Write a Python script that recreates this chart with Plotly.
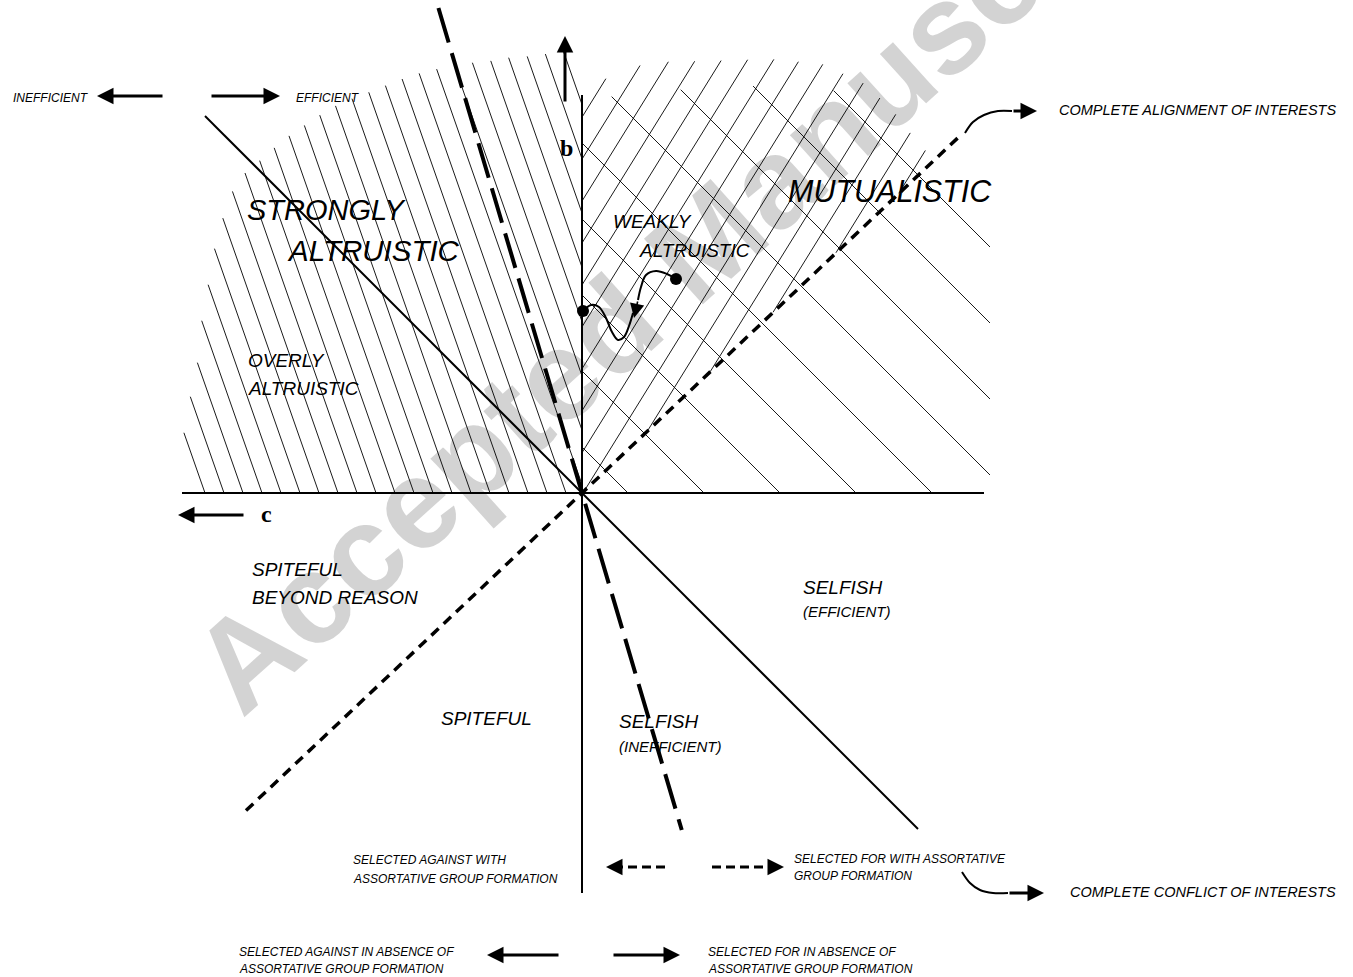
import plotly.graph_objects as go

W, H = 1353, 977
ORIGIN = (582, 493)

# ---- main boundary lines (screen coordinates, y downwards) ----
AXIS_C = [182, 984]            # horizontal axis x-extent at origin height
AXIS_B = [95, 893]             # vertical axis y-extent at origin x
EFF_X = [205, 918]             # solid efficiency line (45 deg) x-extent
LONGDASH_Y = [8, 830]          # long dashed line y-extent
LONGDASH_SLOPE = 0.296         # dx per unit dy
ALIGN_X = [246, 962]           # short dashed alignment line x-extent
ALIGN_SLOPE = 0.945            # dy per unit dx

# ---- hatching families ----
LEFT_HATCH_XB = [205 + 19 * n for n in range(0, 28)]
LEFT_HATCH_DIR = (-0.35, -1.0)
LEFT_HATCH_POLY = [(182, 493), (184, 430), (191, 393), (199, 355), (202, 317), (209, 280),
                   (216, 240), (230, 195), (245, 173), (264, 157), (283, 140), (302, 127),
                   (320, 115), (337, 105), (356, 97), (375, 90), (394, 82), (413, 75),
                   (432, 70), (448, 67), (467, 63), (486, 62), (503, 58), (522, 57),
                   (540, 55), (557, 52), (582, 48), (582, 493)]

RIGHT45_XB = [628 + 76 * n for n in range(0, 9)]
RIGHT45_DIR = (-1.0, -1.0)
RIGHT45_POLY = [(582, 493), (582, 118), (595, 104), (613, 96), (640, 93), (677, 90),
                (715, 87), (752, 86), (800, 88), (838, 91), (850, 91), (990, 236),
                (990, 493)]

STEEP_X0 = [557 + 26 * m for m in range(-10, 8)]
STEEP_DIR = (0.62, -1.0)
STEEP_POLY = [(582, 493), (582, 98), (600, 82), (623, 69), (657, 62), (708, 61),
              (770, 59), (822, 64), (863, 83), (890, 107), (915, 139), (934, 160)]

# ---- dynamics sketch ----
DOTS_X = [583, 676]
DOTS_Y = [311, 279]
WAVE_X = [583, 591, 599, 606, 612, 618, 624, 629, 633]
WAVE_Y = [311, 305, 307, 318, 332, 340, 337, 326, 313]
HOOK_X = [676, 667, 656, 646, 641, 638]
HOOK_Y = [279, 274, 271, 275, 287, 300]

# ---- labels ----
SANS = "Liberation Sans Narrow, Arial Narrow, Liberation Sans, Arial, sans-serif"
LABEL_TEXT = ["INEFFICIENT", "EFFICIENT", "STRONGLY", "ALTRUISTIC", "OVERLY", "ALTRUISTIC",
              "WEAKLY", "ALTRUISTIC", "MUTUALISTIC", "COMPLETE ALIGNMENT OF INTERESTS",
              "SPITEFUL", "BEYOND REASON", "SELFISH", "(EFFICIENT)", "SPITEFUL", "SELFISH",
              "(INEFFICIENT)", "SELECTED AGAINST WITH", "ASSORTATIVE GROUP FORMATION",
              "SELECTED FOR WITH ASSORTATIVE", "GROUP FORMATION",
              "COMPLETE CONFLICT OF INTERESTS", "SELECTED AGAINST IN ABSENCE OF",
              "ASSORTATIVE GROUP FORMATION", "SELECTED FOR IN ABSENCE OF",
              "ASSORTATIVE GROUP FORMATION"]
LABEL_X = [11, 294, 245, 285, 246, 246, 611, 637, 786, 1057, 250, 250, 801, 801, 439, 617,
           617, 351, 351, 792, 792, 1068, 237, 237, 706, 706]
LABEL_Y = [98, 98, 210, 250, 360, 388, 221, 250, 191, 110, 569, 597, 587, 611, 718, 721,
           746, 860, 879, 859, 876, 892, 952, 969, 952, 969]
LABEL_SIZE = [12, 12, 29, 29.5, 19, 19, 19, 19, 30.5, 14.5, 19, 19, 19, 15, 19, 19, 15, 12, 12,
              12, 12, 14.5, 12, 12, 12, 12]

# arrows: (tail_x, tail_y, tip_x, tip_y)
SOLID_ARROWS = [(164, 96, 97, 96), (210, 96, 280, 96), (245, 515, 178, 515),
                (565, 103, 565, 36), (560, 955, 487, 955), (612, 955, 680, 955)]
DASH_ARROWS = [(665, 867, 606, 867), (712, 867, 784, 867)]
CURVE1_X = [965, 973, 984, 998, 1012]
CURVE1_Y = [133, 122, 115, 111, 111]
CURVE2_X = [962, 970, 980, 993, 1008]
CURVE2_Y = [872, 883, 890, 893, 893]

WATERMARK = "Accepted Manuscript"
WATERMARK_LINE = [(318, 678), (1148, -77)]


def clip(p0, d, poly):
    ts = []
    n = len(poly)
    for i in range(n):
        a = poly[i]
        b = poly[(i + 1) % n]
        ex, ey = b[0] - a[0], b[1] - a[1]
        den = d[0] * ey - d[1] * ex
        if abs(den) < 1e-12:
            continue
        wx, wy = a[0] - p0[0], a[1] - p0[1]
        t = (wx * ey - wy * ex) / den
        s = (wx * d[1] - wy * d[0]) / den
        if 0 <= s < 1:
            ts.append(t)
    ts.sort()
    segs = []
    for i in range(0, len(ts) - 1, 2):
        segs.append(((p0[0] + ts[i] * d[0], p0[1] + ts[i] * d[1]),
                     (p0[0] + ts[i + 1] * d[0], p0[1] + ts[i + 1] * d[1])))
    return segs


def hatch(bases, d, poly):
    xs, ys = [], []
    for xb in bases:
        for a, b in clip((xb, 493), d, poly):
            xs += [a[0], b[0], None]
            ys += [a[1], b[1], None]
    return xs, ys


fig = go.Figure()

for bases, d, poly in [(LEFT_HATCH_XB, LEFT_HATCH_DIR, LEFT_HATCH_POLY),
                       (RIGHT45_XB, RIGHT45_DIR, RIGHT45_POLY),
                       (STEEP_X0, STEEP_DIR, STEEP_POLY)]:
    hx, hy = hatch(bases, d, poly)
    fig.add_trace(go.Scatter(x=hx, y=hy, mode="lines", line=dict(color="black", width=0.9),
                             hoverinfo="skip"))

ox, oy = ORIGIN
# axes
fig.add_trace(go.Scatter(x=AXIS_C, y=[oy, oy], mode="lines", line=dict(color="black", width=2)))
fig.add_trace(go.Scatter(x=[ox, ox], y=AXIS_B, mode="lines", line=dict(color="black", width=2)))
# efficiency line
fig.add_trace(go.Scatter(x=EFF_X, y=[oy - (ox - EFF_X[0]), oy + (EFF_X[1] - ox)], mode="lines",
                         line=dict(color="black", width=2)))
# long dashed line
fig.add_trace(go.Scatter(x=[ox - LONGDASH_SLOPE * (oy - y) for y in LONGDASH_Y], y=LONGDASH_Y,
                         mode="lines", line=dict(color="black", width=4, dash="36px,11px")))
# short dashed alignment line
fig.add_trace(go.Scatter(x=ALIGN_X, y=[oy - ALIGN_SLOPE * (x - ox) for x in ALIGN_X],
                         mode="lines", line=dict(color="black", width=3.5, dash="10px,7px")))
# dynamics
fig.add_trace(go.Scatter(x=WAVE_X, y=WAVE_Y, mode="lines", line=dict(color="black", width=2, shape="spline")))
fig.add_trace(go.Scatter(x=HOOK_X, y=HOOK_Y, mode="lines", line=dict(color="black", width=2, shape="spline")))
fig.add_trace(go.Scatter(x=DOTS_X, y=DOTS_Y, mode="markers", marker=dict(color="black", size=12)))
# curved arrows
fig.add_trace(go.Scatter(x=CURVE1_X, y=CURVE1_Y, mode="lines", line=dict(color="black", width=2, shape="spline")))
fig.add_trace(go.Scatter(x=CURVE2_X, y=CURVE2_Y, mode="lines", line=dict(color="black", width=2, shape="spline")))
# dashed arrow shafts
for tx, ty, hx_, hy_ in DASH_ARROWS:
    fig.add_trace(go.Scatter(x=[tx, hx_ + (8 if hx_ < tx else -8)], y=[ty, hy_], mode="lines",
                             line=dict(color="black", width=3, dash="9px,5px")))

ann = []
for t, x, y, s in zip(LABEL_TEXT, LABEL_X, LABEL_Y, LABEL_SIZE):
    ann.append(dict(text=t, x=x, y=y, xanchor="left", yanchor="middle", showarrow=False,
                    font=dict(family=SANS, size=s, color="black", style="italic")))
ann.append(dict(text="b", x=566, y=148, showarrow=False,
                font=dict(family="Liberation Serif, DejaVu Serif, serif", size=24, color="black", weight="bold")))
ann.append(dict(text="c", x=266, y=514, showarrow=False,
                font=dict(family="Liberation Serif, DejaVu Serif, serif", size=24, color="black", weight="bold")))
for tx, ty, hx_, hy_ in SOLID_ARROWS:
    ann.append(dict(x=hx_, y=hy_, ax=tx, ay=ty, xref="x", yref="y", axref="x", ayref="y",
                    text="", showarrow=True, arrowhead=2, arrowsize=1.1, arrowwidth=3,
                    arrowcolor="black", standoff=0, startstandoff=0))
for tx, ty, hx_, hy_ in DASH_ARROWS:
    dx = -10 if hx_ < tx else 10
    ann.append(dict(x=hx_, y=hy_, ax=hx_ - dx, ay=hy_, xref="x", yref="y", axref="x", ayref="y",
                    text="", showarrow=True, arrowhead=2, arrowsize=1.1, arrowwidth=3,
                    arrowcolor="black", standoff=0))
# heads for curved arrows
ann.append(dict(x=1037, y=111, ax=CURVE1_X[-1], ay=CURVE1_Y[-1], xref="x", yref="y", axref="x", ayref="y",
                text="", showarrow=True, arrowhead=2, arrowsize=1.1, arrowwidth=3, arrowcolor="black"))
ann.append(dict(x=1044, y=893, ax=CURVE2_X[-1], ay=CURVE2_Y[-1], xref="x", yref="y", axref="x", ayref="y",
                text="", showarrow=True, arrowhead=2, arrowsize=1.1, arrowwidth=3, arrowcolor="black"))
ann.append(dict(x=634, y=318, ax=HOOK_X[-1], ay=HOOK_Y[-1], xref="x", yref="y", axref="x", ayref="y",
                text="", showarrow=True, arrowhead=2, arrowsize=1.8, arrowwidth=1.6, arrowcolor="black"))

(wx0, wy0), (wx1, wy1) = WATERMARK_LINE
shapes = [dict(type="line", x0=wx0, y0=wy0, x1=wx1, y1=wy1, xref="x", yref="y", layer="below",
               line=dict(color="rgba(0,0,0,0)", width=0),
               label=dict(text=WATERMARK, textposition="middle", textangle=-42,
                          font=dict(family="Liberation Sans, Arial, sans-serif", size=128,
                                    color="rgba(150,150,150,0.42)", weight="bold")))]

fig.update_layout(width=W, height=H, margin=dict(l=0, r=0, t=0, b=0), showlegend=False,
                  plot_bgcolor="white", paper_bgcolor="white", annotations=ann, shapes=shapes,
                  xaxis=dict(range=[0, W], visible=False, fixedrange=True),
                  yaxis=dict(range=[H, 0], visible=False, fixedrange=True))

fig.write_html("out.html", config={"displayModeBar": False},
               post_script="document.body.style.margin='0';")
